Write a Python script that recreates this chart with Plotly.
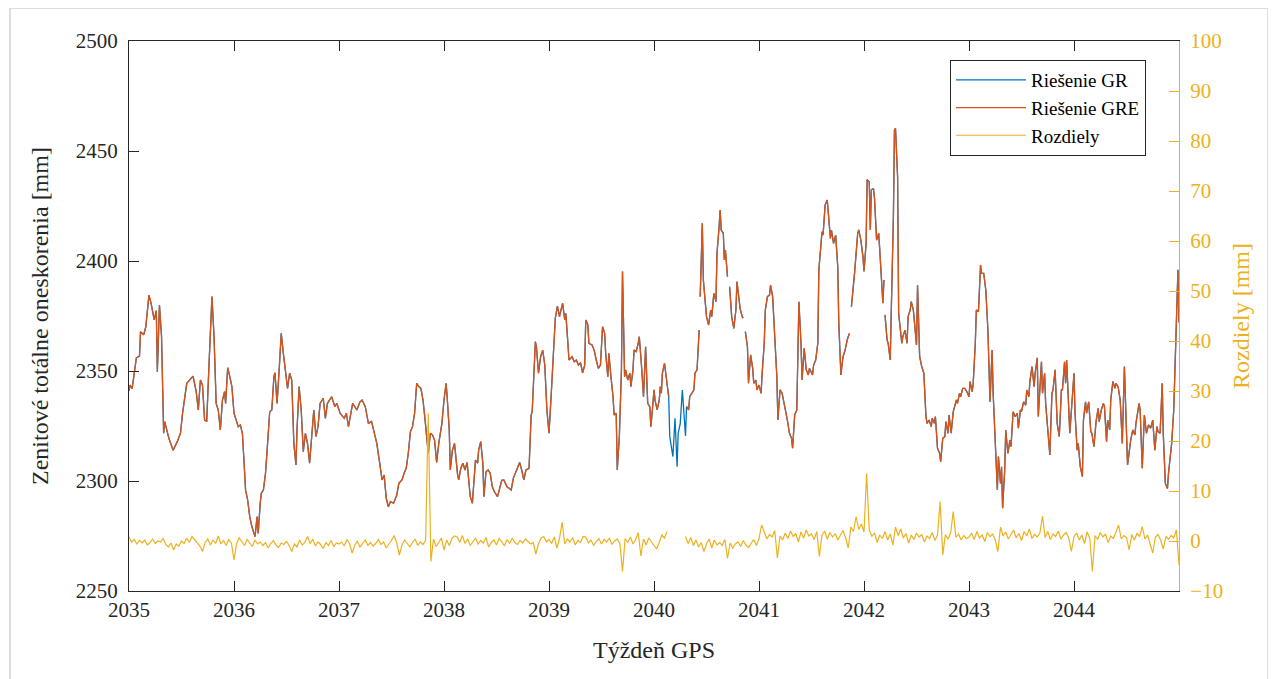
import plotly.graph_objects as go

# ---------------- data ----------------
weeks = [
    2035.00, 2035.01, 2035.03, 2035.05, 2035.07, 2035.10, 2035.11, 2035.14, 2035.16, 2035.19,
    2035.21, 2035.24, 2035.26, 2035.27, 2035.29, 2035.31, 2035.33, 2035.34, 2035.36, 2035.38,
    2035.42, 2035.46, 2035.49, 2035.51, 2035.55, 2035.58, 2035.61, 2035.64, 2035.66, 2035.68,
    2035.70, 2035.72, 2035.74, 2035.76, 2035.79, 2035.81, 2035.83, 2035.85, 2035.87, 2035.89,
    2035.91, 2035.92, 2035.94, 2035.96, 2035.98, 2036.00, 2036.01, 2036.04, 2036.06, 2036.08,
    2036.10, 2036.11, 2036.13, 2036.15, 2036.17, 2036.20, 2036.22, 2036.23, 2036.25, 2036.26,
    2036.28, 2036.30, 2036.32, 2036.34, 2036.36, 2036.38, 2036.39, 2036.41, 2036.43, 2036.45,
    2036.47, 2036.50, 2036.51, 2036.53, 2036.55, 2036.57, 2036.59, 2036.60, 2036.62, 2036.64,
    2036.66, 2036.68, 2036.70, 2036.72, 2036.74, 2036.76, 2036.78, 2036.80, 2036.82, 2036.85,
    2036.87, 2036.89, 2036.93, 2036.96, 2036.98, 2037.01, 2037.05, 2037.07, 2037.09, 2037.13,
    2037.15, 2037.17, 2037.20, 2037.22, 2037.25, 2037.28, 2037.31, 2037.34, 2037.36, 2037.39,
    2037.41, 2037.43, 2037.45, 2037.47, 2037.49, 2037.52, 2037.55, 2037.57, 2037.60, 2037.62,
    2037.64, 2037.66, 2037.68, 2037.70, 2037.72, 2037.74, 2037.76, 2037.78, 2037.80, 2037.82,
    2037.83, 2037.85, 2037.87, 2037.89, 2037.91, 2037.93, 2037.95, 2037.97, 2037.98, 2038.00,
    2038.02, 2038.03, 2038.05, 2038.06, 2038.08, 2038.10, 2038.11, 2038.13, 2038.14, 2038.16,
    2038.18, 2038.20, 2038.22, 2038.24, 2038.25, 2038.27, 2038.29, 2038.30, 2038.32, 2038.33,
    2038.35, 2038.37, 2038.38, 2038.40, 2038.42, 2038.44, 2038.46, 2038.48, 2038.51, 2038.53,
    2038.55, 2038.57, 2038.60, 2038.62, 2038.64, 2038.66, 2038.68, 2038.70, 2038.72, 2038.74,
    2038.76, 2038.78, 2038.81, 2038.83, 2038.84, 2038.87, 2038.88, 2038.90, 2038.92, 2038.94,
    2038.96, 2038.98, 2039.00, 2039.02, 2039.04, 2039.06, 2039.08, 2039.10, 2039.11, 2039.13,
    2039.15, 2039.16, 2039.18, 2039.19, 2039.22, 2039.24, 2039.26, 2039.28, 2039.30, 2039.32,
    2039.34, 2039.35, 2039.37, 2039.38, 2039.41, 2039.43, 2039.45, 2039.47, 2039.49, 2039.51,
    2039.53, 2039.54, 2039.56, 2039.57, 2039.59, 2039.61, 2039.62, 2039.64, 2039.65, 2039.67,
    2039.69, 2039.70, 2039.72, 2039.73, 2039.75, 2039.77, 2039.78, 2039.80, 2039.81, 2039.83,
    2039.85, 2039.86, 2039.88, 2039.90, 2039.92, 2039.94, 2039.96, 2039.97, 2039.99, 2040.00,
    2040.01, 2040.03, 2040.05, 2040.06, 2040.07, 2040.08, 2040.10, 2040.12, 2040.14, 2040.15,
    2040.18, 2040.20, 2040.22, 2040.23, 2040.25, 2040.27, 2040.30, 2040.31, 2040.33, 2040.34,
    2040.36, 2040.38, 2040.39, 2040.41, 2040.43, 2040.44, 2040.46, 2040.47, 2040.49, 2040.50,
    2040.52, 2040.54, 2040.55, 2040.57, 2040.59, 2040.60, 2040.62, 2040.63, 2040.64, 2040.66,
    2040.67, 2040.68, 2040.70, 2040.72, 2040.74, 2040.76, 2040.78, 2040.79, 2040.81, 2040.82,
    2040.84, 2040.85, 2040.87, 2040.89, 2040.90, 2040.92, 2040.94, 2040.95, 2040.97, 2040.98,
    2041.00, 2041.02, 2041.03, 2041.05, 2041.06, 2041.08, 2041.10, 2041.11, 2041.13, 2041.14,
    2041.17, 2041.18, 2041.20, 2041.22, 2041.24, 2041.27, 2041.29, 2041.31, 2041.32, 2041.34,
    2041.36, 2041.37, 2041.38, 2041.40, 2041.41, 2041.43, 2041.45, 2041.47, 2041.48, 2041.51,
    2041.52, 2041.54, 2041.56, 2041.57, 2041.60, 2041.61, 2041.63, 2041.65, 2041.67, 2041.68,
    2041.69, 2041.71, 2041.73, 2041.75, 2041.76, 2041.78, 2041.80, 2041.82, 2041.84, 2041.86,
    2041.88, 2041.90, 2041.91, 2041.94, 2041.95, 2041.97, 2041.99, 2042.00, 2042.02, 2042.03,
    2042.05, 2042.06, 2042.07, 2042.09, 2042.10, 2042.12, 2042.14, 2042.15, 2042.17, 2042.18,
    2042.19, 2042.20, 2042.22, 2042.23, 2042.25, 2042.26, 2042.28, 2042.29, 2042.30, 2042.32,
    2042.33, 2042.34, 2042.36, 2042.37, 2042.39, 2042.41, 2042.42, 2042.44, 2042.45, 2042.47,
    2042.49, 2042.50, 2042.51, 2042.53, 2042.55, 2042.57, 2042.59, 2042.60, 2042.62, 2042.64,
    2042.65, 2042.67, 2042.68, 2042.70, 2042.72, 2042.73, 2042.75, 2042.77, 2042.78, 2042.80,
    2042.81, 2042.83, 2042.85, 2042.86, 2042.88, 2042.89, 2042.91, 2042.92, 2042.94, 2042.96,
    2042.98, 2043.00, 2043.01, 2043.03, 2043.04, 2043.06, 2043.07, 2043.09, 2043.11, 2043.12,
    2043.14, 2043.16, 2043.18, 2043.20, 2043.21, 2043.22, 2043.23, 2043.25, 2043.27, 2043.28,
    2043.30, 2043.31, 2043.32, 2043.34, 2043.35, 2043.37, 2043.39, 2043.40, 2043.42, 2043.44,
    2043.46, 2043.47, 2043.49, 2043.50, 2043.52, 2043.54, 2043.55, 2043.57, 2043.58, 2043.60,
    2043.62, 2043.63, 2043.65, 2043.66, 2043.68, 2043.69, 2043.70, 2043.72, 2043.73, 2043.75,
    2043.77, 2043.79, 2043.80, 2043.82, 2043.84, 2043.86, 2043.88, 2043.89, 2043.91, 2043.92,
    2043.93, 2043.96, 2043.98, 2044.00, 2044.01, 2044.03, 2044.04, 2044.06, 2044.08, 2044.09,
    2044.11, 2044.12, 2044.14, 2044.16, 2044.17, 2044.19, 2044.21, 2044.23, 2044.24, 2044.26,
    2044.28, 2044.29, 2044.31, 2044.32, 2044.34, 2044.35, 2044.37, 2044.39, 2044.40, 2044.42,
    2044.44, 2044.46, 2044.48, 2044.51, 2044.54, 2044.56, 2044.58, 2044.59, 2044.62, 2044.63,
    2044.65, 2044.67, 2044.69, 2044.71, 2044.73, 2044.75, 2044.77, 2044.79, 2044.80, 2044.82,
    2044.84, 2044.85, 2044.87, 2044.89, 2044.90, 2044.93, 2044.95, 2044.96, 2044.975, 2044.99,
    2045.00,
]

# Riesenie GRE (None = GRE solution missing while GR exists)
gre = [
    2341.0, 2343.6, 2342.0, 2350.5, 2356.0, 2356.8, 2367.9, 2366.4, 2370.1, 2384.5,
    2380.8, 2373.2, 2377.4, 2349.7, 2380.0, 2365.6, 2321.7, 2327.0, 2323.2, 2319.4,
    2314.0, 2317.9, 2321.7, 2330.8, 2344.4, 2345.9, 2347.7, 2340.6, 2332.3, 2345.9,
    2343.6, 2327.7, 2327.0, 2350.5, 2383.8, 2365.6, 2335.3, 2332.3, 2323.2, 2336.8,
    2340.6, 2335.3, 2351.5, 2347.4, 2342.9, 2330.8, 2329.3, 2324.7, 2325.5, 2321.7,
    2305.0, 2295.9, 2291.4, 2283.8, 2279.3, 2274.7, 2283.8, 2276.2, 2290.0, 2294.4,
    2295.9, 2303.5, 2317.1, 2331.5, 2332.3, 2347.4, 2349.2, 2335.3, 2350.5, 2367.1,
    2358.0, 2344.4, 2342.1, 2349.0, 2345.9, 2317.1, 2307.3, 2323.2, 2342.9, 2332.3,
    2313.3, 2321.7, 2317.1, 2308.1, 2320.2, 2332.3, 2320.2, 2324.7, 2335.3, 2337.6,
    2328.5, 2335.3, 2338.3, 2333.8, 2335.3, 2330.8, 2328.5, 2330.8, 2324.7, 2335.3,
    2333.8, 2332.3, 2336.0, 2336.8, 2333.8, 2326.2, 2327.0, 2321.7, 2317.1, 2307.3,
    2300.5, 2302.7, 2292.1, 2288.3, 2290.6, 2289.9, 2293.6, 2298.9, 2300.5, 2303.5,
    2305.8, 2312.6, 2322.4, 2324.7, 2330.8, 2344.4, 2342.9, 2342.1, 2336.8, 2327.7,
    2323.2, 2312.6, 2321.7, 2320.9, 2318.6, 2308.4, 2317.1, 2324.7, 2326.2, 2336.8,
    2344.4, 2338.3, 2323.2, 2305.0, 2314.0, 2317.1, 2311.1, 2302.7, 2300.5, 2305.8,
    2308.1, 2305.0, 2308.4, 2298.9, 2292.9, 2289.9, 2301.9, 2309.5, 2308.1, 2314.0,
    2317.9, 2308.1, 2292.9, 2304.2, 2305.0, 2303.5, 2297.4, 2295.1, 2292.9, 2297.4,
    2300.3, 2300.5, 2297.4, 2296.7, 2295.9, 2301.2, 2303.5, 2305.8, 2308.4, 2305.0,
    2300.5, 2305.0, 2305.8, 2330.0, 2331.5, 2363.3, 2361.0, 2349.0, 2356.5, 2359.5,
    2352.7, 2332.3, 2321.7, 2338.3, 2356.5, 2374.0, 2379.5, 2374.7, 2376.9, 2380.8,
    2373.2, 2376.2, 2362.6, 2355.0, 2356.5, 2354.2, 2355.0, 2352.7, 2353.8, 2349.2,
    2352.7, 2373.2, 2370.9, 2362.6, 2361.8, 2359.5, 2355.0, 2351.2, 2352.7, 2370.1,
    2367.1, 2358.0, 2347.4, 2358.0, 2347.4, 2338.3, 2330.0, 2330.8, 2305.0, 2320.2,
    2350.5, 2395.2, 2347.4, 2350.5, 2345.9, 2349.0, 2342.9, 2350.5, 2359.5, 2358.8,
    2362.6, 2365.6, 2353.1, 2338.3, 2361.0, 2335.3, 2333.8, 2324.7, 2335.3, 2341.4,
    2336.8, 2332.3, 2336.8, 2342.9, 2339.9, 2349.0, 2353.5, 2345.9, 2338.3, None,
    None, None, None, None, None, None, None, 2333.8, 2332.3, 2338.3,
    2339.9, 2341.4, 2349.0, 2350.5, 2368.6, 2383.8, 2417.1, 2391.4, 2380.8, 2374.7,
    2370.9, 2377.7, 2374.7, 2385.3, 2381.5, 2403.5, 2415.6, 2423.2, 2414.1, 2412.6,
    2400.5, 2405.0, 2392.9, 2388.3, 2374.7, 2369.4, 2377.7, 2390.6, 2380.0, 2378.5,
    2374.7, 2374.0, 2367.9, 2361.0, 2344.4, 2357.3, 2351.2, 2344.4, 2345.9, 2341.4,
    2343.6, 2339.9, 2349.0, 2362.6, 2377.7, 2383.8, 2384.5, 2389.0, 2383.8, 2374.7,
    2347.4, 2327.7, 2341.4, 2339.9, 2335.3, 2327.7, 2321.7, 2319.4, 2314.9, 2330.0,
    2332.3, 2350.5, 2381.5, 2362.6, 2345.9, 2360.3, 2350.5, 2348.2, 2351.2, 2348.2,
    2352.7, 2355.0, 2362.6, 2395.9, 2413.3, 2411.8, 2425.5, 2427.7, 2417.1, 2410.3,
    2414.1, 2408.0, 2411.8, 2397.4, 2371.7, 2348.2, 2356.5, 2359.5, 2364.1, 2367.1,
    2379.2, 2388.3, 2394.4, 2412.6, 2414.1, 2409.5, 2402.0, 2395.2, 2408.0, 2437.0,
    2436.0, 2414.1, 2432.3, 2433.0, 2428.5, 2409.5, 2412.6, 2405.0, 2391.4, 2380.8,
    2391.4, 2375.5, 2364.1, 2362.6, 2355.0, 2377.7, 2420.1, 2459.5, 2460.3, 2438.3,
    2376.2, 2371.7, 2362.6, 2365.6, 2368.6, 2362.6, 2374.7, 2377.7, 2381.5, 2377.7,
    2368.6, 2361.8, 2389.0, 2356.5, 2352.0, 2349.0, 2329.3, 2326.2, 2327.7, 2324.7,
    2328.5, 2326.2, 2329.3, 2314.9, 2312.6, 2308.8, 2319.4, 2320.2, 2327.0, 2321.7,
    2330.0, 2321.7, 2331.5, 2333.8, 2336.8, 2335.3, 2339.9, 2338.3, 2342.1, 2342.1,
    2340.6, 2338.3, 2345.2, 2340.6, 2344.4, 2362.6, 2377.7, 2376.9, 2398.2, 2394.4,
    2394.4, 2386.8, 2368.6, 2336.0, 2347.4, 2359.5, 2339.9, 2318.6, 2295.9, 2311.1,
    2298.9, 2306.5, 2287.6, 2305.0, 2323.2, 2312.6, 2318.6, 2315.6, 2331.5, 2329.3,
    2330.8, 2324.0, 2332.3, 2331.5, 2336.0, 2334.5, 2341.4, 2338.3, 2345.2, 2352.0,
    2342.9, 2349.0, 2356.0, 2329.3, 2347.4, 2354.2, 2339.9, 2349.0, 2335.3, 2321.7,
    2311.8, 2339.9, 2341.4, 2350.5, 2326.2, 2320.2, 2341.4, 2341.4, 2354.2, 2344.4,
    2355.0, 2321.7, 2335.3, 2349.0, 2330.8, 2314.0, 2317.1, 2306.5, 2302.0, 2327.7,
    2336.0, 2330.8, 2336.0, 2322.4, 2321.7, 2315.6, 2327.0, 2333.0, 2327.0, 2332.3,
    2335.3, 2333.8, 2317.9, 2327.7, 2323.2, 2336.8, 2345.2, 2342.1, 2344.4, 2342.9,
    2336.8, 2317.1, 2352.0, 2307.3, 2318.6, 2323.2, 2320.9, 2326.2, 2335.3, 2332.3,
    2305.8, 2330.0, 2321.7, 2325.5, 2324.0, 2327.7, 2314.0, 2324.7, 2322.4, 2321.7,
    2344.4, 2321.7, 2298.9, 2296.6, 2303.5, 2317.1, 2332.3, 2349.0, 2374.7, 2396.0,
    2372.0,
]

# Riesenie GR where the GRE solution is missing (2040.15 - 2040.30)
gr_outage = [2320.2, 2311.1, 2328.5, 2306.5, 2321.7, 2326.2, 2341.4, 2320.5]

# epochs where both solutions are interrupted
breaks = [2040.435, 2040.71, 2040.86, 2041.87, 2042.195]

# Rozdiely (GR - GRE) [mm], one value every 0.025 week from week 2035
diff_start = 2035.0
diff_step = 0.025
diff = [
    0.8, -0.2, 0.3, -0.6, 0.1, -0.4, 0.2, -0.8, -0.3, 0.4, -0.5, 0.0, -0.2, 0.5, -0.7, -1.2, -0.4, -1.8, -0.6, -1.0,
    0.0, -0.5, 0.6, -0.3, 0.9, 0.2, -0.4, -1.0, -2.1, -0.3, 0.4, -0.8, 0.2, -0.5, 1.0, -0.6, 0.1, -0.9, 0.3, -0.4,
    -3.8, -0.5, 0.6, -0.2, -0.9, 0.3, -0.4, -1.1, 0.2, -0.6, -0.2, -0.9, -0.3, -1.4, -0.5, 0.1, -0.8, -1.3, -0.4, -0.7,
    -0.1, -0.9, -2.1, -0.6, -1.2, 0.2, -0.8, -0.3, 0.9, -0.5, 0.4, -1.0, -0.2, -0.7, -1.5, -0.3, -0.9, 0.1, -1.1, -0.4,
    -0.6, -0.2, -1.0, 0.3, -0.5, -2.4, -0.8, -0.1, -1.2, -0.4, 0.2, -0.9, -0.3, -1.0, -0.5, 0.3, -0.7, -0.2, -1.4, -0.6,
    0.1, 1.1, -0.4, -2.8, -0.8, 0.2, -0.6, -1.2, -0.3, 0.4, -0.9, -0.2, -0.7, 0.2, 25.5, -4.1, 0.4, -1.1, -0.3, 0.6,
    -1.8, 0.2, -0.9, 0.5, 1.0, 0.8, -0.3, 1.1, -0.5, 0.4, -0.9, -0.2, 0.6, -0.6, 0.1, -0.4, 0.7, -1.2, -0.3, 0.2,
    -0.8, 0.5, -0.1, -1.0, 0.3, -0.5, 0.6, -0.3, -0.7, 0.1, -0.4, 0.4, -0.2, -0.6, -0.3, -2.6, -0.5, 0.6, 0.9, -0.2,
    0.3, -0.5, 0.8, -1.4, 0.5, 3.8, -0.6, 0.4, -0.2, 0.7, -0.8, 0.1, -0.3, 0.9, 0.8, -0.4, 0.2, -0.9, -0.1, 0.5,
    -0.6, 0.3, -0.2, 0.6, -0.7, 0.0, 0.4, -0.5, -6.1, 0.5, -0.3, 0.8, -0.6, 0.3, 1.7, -3.0, 0.4, -0.8, 0.6, -0.2,
    -0.8, -1.6, -0.3, 1.2, 0.6, 1.9, None, None, None, None, None, None, 0.9, -0.5, 0.7, -0.9, 0.2, -1.2, -0.3, -2.1,
    -0.6, 0.4, -1.4, 0.2, -0.8, -0.3, -0.9, 0.3, -3.5, -0.4, -1.4, -0.6, -0.2, -1.1, 0.1, -0.8, -1.3, -0.4, 0.3, -0.9,
    0.5, 3.2, 1.8, 0.4, 1.3, 0.8, 2.1, -3.4, 1.0, 0.2, 1.6, 0.5, 2.0, 0.9, 1.5, -0.2, 1.8, 0.6, 2.2, 1.0,
    1.4, 0.3, 1.9, -3.1, 1.2, 2.0, 0.4, 1.7, 0.8, 1.5, 0.2, 1.3, 2.1, 0.6, -1.4, 2.8, 1.9, 4.9, 2.3, 3.4,
    1.8, 13.5, 2.2, 0.9, 1.6, -0.3, 1.2, 0.5, 1.9, 0.2, 1.4, -0.8, 2.8, 1.1, 2.4, 0.6, 1.5, -0.4, 1.2, 0.3,
    1.6, 0.8, 1.3, -0.2, 1.0, 0.5, 1.7, 0.1, 1.2, 7.9, -2.8, 1.3, 0.4, 1.6, 5.9, 0.7, 1.4, 0.2, 1.1, 0.5,
    0.8, 1.5, 0.3, 1.9, 0.6, 1.2, -0.1, 1.7, 0.9, 1.4, 0.2, -2.1, 2.8, 1.0, 1.8, 0.4, 1.3, 2.2, 0.6, 1.5,
    0.1, 1.9, 1.0, 2.4, 0.5, 1.3, 0.8, 1.6, 5.0, 0.7, 1.9, 0.3, 1.4, 0.9, 2.0, 0.4, 1.2, 1.7, 0.6, -2.1,
    0.9, 1.6, 0.2, 1.2, -0.5, 1.8, 0.6, -6.1, 1.1, 0.3, 1.7, 0.8, 1.4, -0.3, 1.0, 0.5, 1.8, 3.2, 0.4, 1.1,
    0.7, -1.8, 1.3, 0.2, 1.5, 0.9, 2.9, 0.4, 1.2, -0.6, -2.4, 0.8, 1.3, 0.2, -1.6, 0.9, 0.4, 1.1, 0.6, 2.2,
    -4.8,
]

x_ticks = [2035, 2036, 2037, 2038, 2039, 2040, 2041, 2042, 2043, 2044]
y_ticks = [2250, 2300, 2350, 2400, 2450, 2500]
y2_ticks = [-10, 0, 10, 20, 30, 40, 50, 60, 70, 80, 90, 100]

assert len(weeks) == len(gre)

# ---------------- build series ----------------
_it = iter(gr_outage)
gr = [next(_it) if v is None else v for v in gre]


def with_breaks(x, y):
    pts = list(zip(x, y)) + [(b, None) for b in breaks]
    pts.sort(key=lambda p: p[0])
    return [p[0] for p in pts], [p[1] for p in pts]


gr_x, gr_y = with_breaks(weeks, gr)
gre_x, gre_y = with_breaks(weeks, gre)
diff_x = [round(diff_start + diff_step * i, 4) for i in range(len(diff))]

C_GR = "#0072BD"
C_GRE = "#D95319"
C_DIFF = "#EDB120"
C_AX = "#262626"
FONT = "Liberation Serif"

fig = go.Figure()
fig.add_trace(go.Scatter(x=gr_x, y=gr_y, mode="lines", name="Riešenie GR",
                         line=dict(color=C_GR, width=1.3), connectgaps=False))
fig.add_trace(go.Scatter(x=gre_x, y=gre_y, mode="lines", name="Riešenie GRE",
                         line=dict(color=C_GRE, width=1.3), connectgaps=False))
fig.add_trace(go.Scatter(x=diff_x, y=diff, mode="lines", name="Rozdiely", yaxis="y2",
                         line=dict(color=C_DIFF, width=1.2), connectgaps=False))

# the page body has an 8 px margin: figure placed at (8, 8)
OFF = 8
W, H = 1268, 671
L, R, T, B = 129 - OFF, 97, 41 - OFF, 88
PW, PH = W - L - R, H - T - B


def px_x(p):  # window pixel -> paper coordinate
    return (p - OFF - L) / PW


def px_y(p):
    return 1 - (p - OFF - T) / PH


fig.update_layout(
    width=W, height=H, autosize=False,
    margin=dict(l=L, r=R, t=T, b=B, pad=0),
    paper_bgcolor="white", plot_bgcolor="white",
    font=dict(family=FONT, size=21, color="black"),
    showlegend=True,
    legend=dict(x=px_x(950), y=px_y(60), xanchor="left", yanchor="top",
                bgcolor="white", bordercolor=C_AX, borderwidth=1,
                font=dict(family=FONT, size=19, color="black"),
                itemwidth=70, tracegroupgap=0),
    xaxis=dict(range=[2035, 2045], tickvals=x_ticks, ticks="inside", ticklen=10,
               tickwidth=1.3, tickcolor=C_AX, showline=True, linecolor=C_AX,
               linewidth=1.3, mirror="ticks", showgrid=False, zeroline=False,
               tickfont=dict(family=FONT, size=21, color=C_AX),
               title=dict(text="Týždeň GPS", font=dict(family=FONT, size=24, color=C_AX),
                          standoff=19)),
    yaxis=dict(range=[2250, 2500], tickvals=y_ticks, ticks="inside", ticklen=10,
               tickwidth=1.3, tickcolor=C_AX, showline=True, linecolor=C_AX,
               linewidth=1.3, mirror=False, showgrid=False, zeroline=False,
               ticklabelstandoff=6,
               tickfont=dict(family=FONT, size=21, color=C_AX),
               title=dict(text="Zenitové totálne oneskorenia [mm]",
                          font=dict(family=FONT, size=24, color=C_AX), standoff=20)),
    yaxis2=dict(range=[-10, 100], tickvals=y2_ticks, overlaying="y", side="right",
                ticks="inside", ticklen=10, tickwidth=1.3, tickcolor=C_DIFF,
                showline=True, linecolor=C_DIFF, linewidth=1.3, showgrid=False,
                zeroline=False, ticklabelstandoff=6,
                tickfont=dict(family=FONT, size=21, color=C_DIFF),
                title=dict(text="Rozdiely [mm]", font=dict(family=FONT, size=24, color=C_DIFF),
                           standoff=10)),
    shapes=[dict(type="rect", xref="paper", yref="paper",
                 x0=px_x(10), x1=px_x(1268), y0=px_y(700), y1=px_y(8),
                 line=dict(color="#d4d4d4", width=1.5), fillcolor="rgba(0,0,0,0)",
                 layer="below")],
)

fig.write_html("out.html")
